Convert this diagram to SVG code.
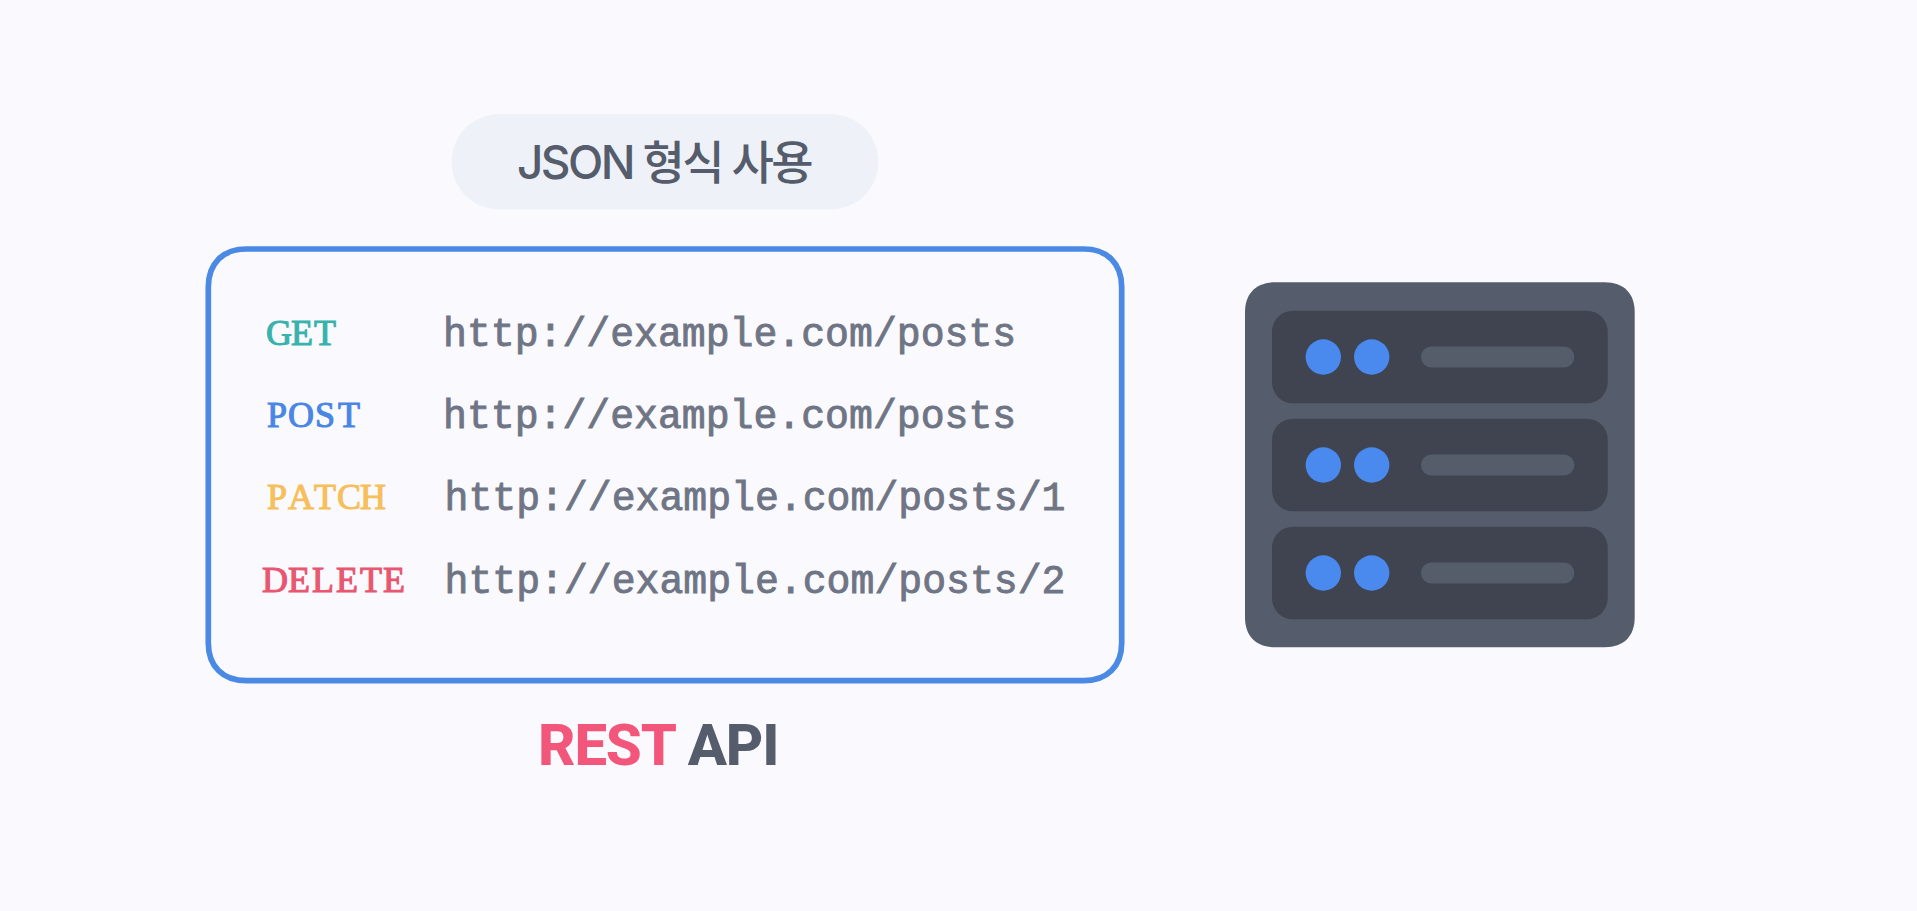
<svg xmlns="http://www.w3.org/2000/svg" width="1917" height="911" viewBox="0 0 1917 911">
<style>
.m{font-family:"Liberation Mono","Courier New",monospace;font-size:39.800px;stroke-width:.9px}
.s{font-family:"Liberation Serif","Times New Roman",serif;font-size:36px;text-anchor:middle;stroke-width:1.100px}
.u{fill:#6F7585;stroke:#6F7585}
.rack{fill:#3F4450}
.bar{fill:#555C6A}
.dot{fill:#4A89EE}
</style>
<rect width="1917" height="911" fill="#FAFAFE"/>
<g id="json-badge">
<rect x="451.500" y="114" width="427" height="95.500" rx="47.700" fill="#EEF2F8"/>
<text x="517" y="179" font-family="Inter,'Noto Sans CJK KR',sans-serif" font-size="46" font-weight="500" letter-spacing="-2.600" fill="#555C6B">JSON 형식 사용</text>
</g>
<g id="api-box">
<path d="M246.300 249H1083.700C1107.300 249 1121.700 263.400 1121.700 287V642.700C1121.700 666.300 1107.300 680.700 1083.700 680.700H246.300C222.700 680.700 208.300 666.300 208.300 642.700V287C208.300 263.400 222.700 249 246.300 249Z" fill="#FAFAFE" stroke="#4A89E4" stroke-width="5.700"/>
<text class="s" x="279 302 325" y="345" fill="#38B2AC" stroke="#38B2AC">GET</text>
<text class="m u" x="443" y="346">http://example.com/posts</text>
<text class="s" x="277 301 325 349" y="427.300" fill="#4A86E4" stroke="#4A86E4">POST</text>
<text class="m u" x="443" y="428.300">http://example.com/posts</text>
<text class="s" x="277 301 325 349 373" y="509.300" fill="#F6BF5C" stroke="#F6BF5C">PATCH</text>
<text class="m u" x="444.500" y="510.300">http://example.com/posts/1</text>
<text class="s" x="275 299 323 347 371 394" y="591.700" fill="#E8566F" stroke="#E8566F">DELETE</text>
<text class="m u" x="444.500" y="592.700">http://example.com/posts/2</text>
</g>
<g id="api-title">
<text x="538" y="765" font-family="Roboto,'Liberation Sans',sans-serif" font-size="58" font-weight="800" letter-spacing="-1.100" fill="#F2567A">REST <tspan fill="#555C6B">API</tspan></text>
</g>
<g id="server">
<path d="M1275 282.300H1604.700C1623.700 282.300 1634.700 293.300 1634.700 312.300V617.300C1634.700 636.300 1623.700 647.300 1604.700 647.300H1275C1256 647.300 1245 636.300 1245 617.300V312.300C1245 293.300 1256 282.300 1275 282.300Z" fill="#555C6B"/>
<rect class="rack" x="1272" y="310.700" width="335.700" height="92.600" rx="21"/>
<rect class="rack" x="1272" y="418.700" width="335.700" height="92.600" rx="21"/>
<rect class="rack" x="1272" y="526.700" width="335.700" height="92.600" rx="21"/>
<circle class="dot" cx="1323.300" cy="357" r="17.700"/>
<circle class="dot" cx="1371.700" cy="357" r="17.700"/>
<circle class="dot" cx="1323.300" cy="465" r="17.700"/>
<circle class="dot" cx="1371.700" cy="465" r="17.700"/>
<circle class="dot" cx="1323.300" cy="573" r="17.700"/>
<circle class="dot" cx="1371.700" cy="573" r="17.700"/>
<rect class="bar" x="1421" y="346.500" width="153.300" height="21" rx="10.500"/>
<rect class="bar" x="1421" y="454.500" width="153.300" height="21" rx="10.500"/>
<rect class="bar" x="1421" y="562.500" width="153.300" height="21" rx="10.500"/>
</g>
<g id="connectors"/>
</svg>
